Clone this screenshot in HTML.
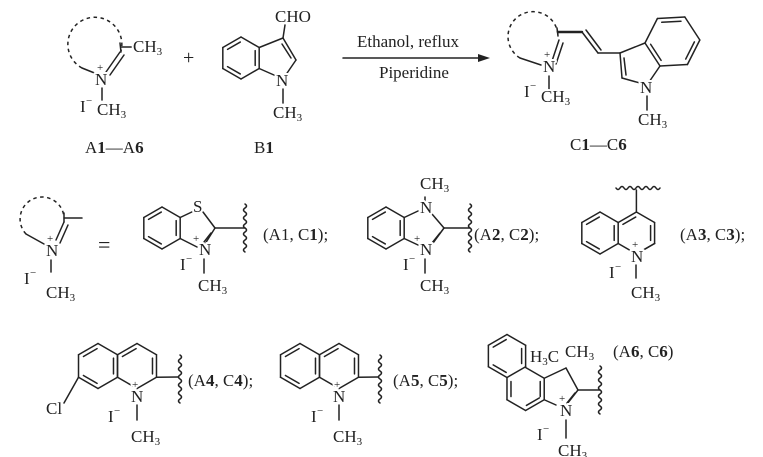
<!DOCTYPE html>
<html><head><meta charset="utf-8"><style>
html,body{margin:0;padding:0;background:#fff;}
svg{display:block;}
text{font-family:"Liberation Serif",serif;font-size:17px;fill:#222;stroke:#fff;stroke-width:4px;paint-order:stroke;stroke-linejoin:round;}
.s{font-size:11px;}
.p{font-size:11px;}
.b{font-weight:bold;}
</style></head><body>
<svg id="sv" width="763" height="457" viewBox="0 0 763 457" xmlns="http://www.w3.org/2000/svg">
<g id="lines" stroke="#222" stroke-width="1.5" fill="none" stroke-linecap="round"></g>
<g stroke="#222" stroke-width="1.5" fill="none" stroke-dasharray="3.5 3.5">
<path d="M82 68 A27 27 0 1 1 121 51"/>
<path d="M520 58 A25 25 0 1 1 558 36"/>
<path d="M26 234 A22 22 0 1 1 64 217"/>
</g>
<g id="txt">
<text x="133" y="52">CH<tspan class="s" dy="3">3</tspan></text>
<text x="95" y="85">N</text><text class="p" x="97" y="71">+</text>
<text x="80" y="112">I</text><text class="p" x="86" y="104">−</text>
<text x="97" y="115">CH<tspan class="s" dy="3">3</tspan></text>
<text x="183" y="64" style="font-size:20px">+</text>
<text x="275" y="22">CHO</text>
<text x="276" y="86">N</text>
<text x="273" y="118">CH<tspan class="s" dy="3">3</tspan></text>
<text x="85" y="153">A<tspan class="b">1</tspan>—A<tspan class="b">6</tspan></text>
<text x="254" y="153">B<tspan class="b">1</tspan></text>
<text x="357" y="47">Ethanol, reflux</text>
<text x="379" y="78">Piperidine</text>
<text x="543" y="72">N</text><text class="p" x="544" y="58">+</text>
<text x="524" y="97">I</text><text class="p" x="530" y="89">−</text>
<text x="541" y="102">CH<tspan class="s" dy="3">3</tspan></text>
<text x="640" y="93">N</text>
<text x="638" y="125">CH<tspan class="s" dy="3">3</tspan></text>
<text x="570" y="150">C<tspan class="b">1</tspan>—C<tspan class="b">6</tspan></text>
<text x="46" y="256">N</text><text class="p" x="47" y="242">+</text>
<text x="24" y="284">I</text><text class="p" x="30" y="276">−</text>
<text x="46" y="298">CH<tspan class="s" dy="3">3</tspan></text>
<text x="98" y="252" style="font-size:22px">=</text>
<text x="193" y="212">S</text>
<text x="199" y="255">N</text><text class="p" x="193" y="242">+</text>
<text x="180" y="270">I</text><text class="p" x="186" y="262">−</text>
<text x="198" y="291">CH<tspan class="s" dy="3">3</tspan></text>
<text x="263" y="240">(A1, C<tspan class="b">1</tspan>);</text>
<text x="420" y="213">N</text>
<text x="420" y="189">CH<tspan class="s" dy="3">3</tspan></text>
<text x="420" y="255">N</text><text class="p" x="414" y="242">+</text>
<text x="403" y="270">I</text><text class="p" x="409" y="262">−</text>
<text x="420" y="291">CH<tspan class="s" dy="3">3</tspan></text>
<text x="474" y="240">(A<tspan class="b">2</tspan>, C<tspan class="b">2</tspan>);</text>
<text x="631" y="262">N</text><text class="p" x="632" y="248">+</text>
<text x="609" y="278">I</text><text class="p" x="615" y="270">−</text>
<text x="631" y="298">CH<tspan class="s" dy="3">3</tspan></text>
<text x="680" y="240">(A<tspan class="b">3</tspan>, C<tspan class="b">3</tspan>);</text>
<text x="46" y="414">Cl</text>
<text x="131" y="402">N</text><text class="p" x="132" y="388">+</text>
<text x="108" y="422">I</text><text class="p" x="114" y="414">−</text>
<text x="131" y="442">CH<tspan class="s" dy="3">3</tspan></text>
<text x="188" y="386">(A<tspan class="b">4</tspan>, C<tspan class="b">4</tspan>);</text>
<text x="333" y="402">N</text><text class="p" x="334" y="388">+</text>
<text x="311" y="422">I</text><text class="p" x="317" y="414">−</text>
<text x="333" y="442">CH<tspan class="s" dy="3">3</tspan></text>
<text x="393" y="386">(A<tspan class="b">5</tspan>, C<tspan class="b">5</tspan>);</text>
<text x="530" y="362">H<tspan class="s" dy="3">3</tspan><tspan dy="-3">C</tspan></text>
<text x="565" y="357">CH<tspan class="s" dy="3">3</tspan></text>
<text x="560" y="416">N</text><text class="p" x="559" y="402">+</text>
<text x="537" y="440">I</text><text class="p" x="543" y="432">−</text>
<text x="558" y="456">CH<tspan class="s" dy="3">3</tspan></text>
<text x="613" y="357">(A<tspan class="b">6</tspan>, C<tspan class="b">6</tspan>)</text>
</g>
</svg>
<script>
var g=document.getElementById('lines'),h='';
function L(a,b,c,d,w){h+='<line x1="'+a+'" y1="'+b+'" x2="'+c+'" y2="'+d+'"'+(w?' stroke-width="'+w+'"':'')+'/>';}
function hexv(cx,cy,r){var p=[];for(var i=0;i<6;i++){var a=(-90+60*i)*Math.PI/180;p.push([cx+r*Math.cos(a),cy+r*Math.sin(a)]);}return p;}
function ring(p,dbl,skip){skip=skip||[];var n=p.length,cx=0,cy=0;p.forEach(function(q){cx+=q[0];cy+=q[1];});cx/=n;cy/=n;
for(var i=0;i<n;i++){if(skip.indexOf(i)>=0)continue;var a=p[i],b=p[(i+1)%n];L(a[0],a[1],b[0],b[1]);}
dbl.forEach(function(i){var a=p[i],b=p[(i+1)%n];var mx=(a[0]+b[0])/2,my=(a[1]+b[1])/2;var dx=cx-mx,dy=cy-my,d=Math.hypot(dx,dy);dx=dx/d*4;dy=dy/d*4;
var a2=[a[0]+(b[0]-a[0])*.15+dx,a[1]+(b[1]-a[1])*.15+dy],b2=[b[0]+(a[0]-b[0])*.15+dx,b[1]+(a[1]-b[1])*.15+dy];L(a2[0],a2[1],b2[0],b2[1]);});}
function wavyV(x,y1,y2){var s='M'+x+' '+y1;for(var y=y1;y<y2;y+=4){s+=' Q'+(x+(((y-y1)/4)%2?-3:3))+' '+(y+2)+' '+x+' '+(y+4);}h+='<path d="'+s+'"/>';}
function wavyH(y,x1,x2){var s='M'+x1+' '+y;for(var x=x1;x<x2;x+=4){s+=' Q'+(x+2)+' '+(y+(((x-x1)/4)%2?-3:3))+' '+(x+4)+' '+y;}h+='<path d="'+s+'"/>';}
L(82,68,97,74);L(121,47,133,47);L(120,43,121,52);L(106,72,120,52);L(110,75,124,55);L(102,88,102,100);
L(343,58,485,58);h+='<polygon points="490,58 478,54 478,62" fill="#222" stroke="none"/>';
var bz=hexv(241,58,21);ring(bz,[1,3,5]);
var C3a=bz[1],C7a=bz[2],C3=[283,38],C2=[296,60],N=[283,79];
L(C3a[0],C3a[1],C3[0],C3[1]);L(C3[0],C3[1],C2[0],C2[1]);L(C3[0]-1,C3[1]+6,C2[0]-5,C2[1]-2);L(C2[0],C2[1],N[0],N[1]);L(N[0],N[1],C7a[0],C7a[1]);
L(283,38,285,25);L(283,89,283,103);
L(520,58,541,65);L(557,28,558,36);L(552,61,559,40);L(556,64,563,43);L(549,76,549,90);
L(558,32,582,32,2.4);L(582,32,598,53);L(586,30,601,50);L(598,53,620,53);
var C3p=[620,53],C3ap=[645,43],C7ap=[660,66],Np=[647,85],C2p=[622,78];
L(C3p[0],C3p[1],C3ap[0],C3ap[1]);L(C3p[0],C3p[1],C2p[0],C2p[1]);L(C3p[0]+4,C3p[1]+5,C2p[0]+4,C2p[1]-3);L(C2p[0],C2p[1],Np[0],Np[1]);L(Np[0],Np[1],C7ap[0],C7ap[1]);
var mx=(C3ap[0]+C7ap[0])/2,my=(C3ap[1]+C7ap[1])/2,ex=C7ap[0]-C3ap[0],ey=C7ap[1]-C3ap[1],el=Math.hypot(ex,ey),pc=[mx+ey/el*el*0.866,my-ex/el*el*0.866];
var hp=[];for(var i=0;i<6;i++){var ang=Math.atan2(C3ap[1]-pc[1],C3ap[0]-pc[0])+i*Math.PI/3;hp.push([pc[0]+el*Math.cos(ang),pc[1]+el*Math.sin(ang)]);}
ring(hp,[1,3,5]);L(647,96,647,110);
L(26,234,44,244);L(64,213,64,222);L(64,218,82,218);L(56,240,64,222);L(60,243,68,225);L(51,260,51,272);
var b1=hexv(162,228,21);ring(b1,[1,3,5]);
var s1=b1[1],s2=b1[2];L(s1[0],s1[1],196,210);L(203,212,215,228);L(215,228,205,244);L(211,233,204,242);L(197,247,s2[0],s2[1]);L(215,228,245,228);wavyV(245,204,252);L(204,259,204,273);
var b2=hexv(386,228,21);ring(b2,[1,3,5]);
var t1=b2[1],t2=b2[2];L(t1[0],t1[1],418,211);L(432,214,444,228);L(444,228,433,243);L(440,233,432,243);L(418,245,t2[0],t2[1]);L(444,228,470,228);wavyV(470,204,252);L(425,197,425,202);L(425,259,425,273);
var q1=hexv(600,233,21);ring(q1,[1,3,5]);
var q2=hexv(636.4,233,21);ring(q2,[1,5],[3,4]);L(q2[3][0],q2[3][1],q2[2][0],q2[2][1]);L(q2[4][0],q2[4][1],q2[3][0],q2[3][1]);
L(q2[0][0],q2[0][1],636.4,190);wavyH(188,616,658);L(636,265,636,278);
var a1=hexv(98,366,22.5);ring(a1,[1,3,5]);var a2=hexv(137,366,22.5);ring(a2,[1,5]);L(a1[4][0],a1[4][1],64,403);L(a2[2][0],a2[2][1],178,377);wavyV(180,355,400);L(137,405,137,420);
var c1=hexv(300,366,22.5);ring(c1,[1,3,5]);var c2=hexv(339,366,22.5);ring(c2,[1,5]);L(c2[2][0],c2[2][1],378,377);wavyV(380,355,400);L(339,405,339,420);
var r1=hexv(507,356,21.5);ring(r1,[1,3,5]);var r2=hexv(525.6,389,21.5);ring(r2,[1,2,4],[5]);
L(r2[1][0],r2[1][1],566,368);L(566,368,578,390);L(578,390,567,404);L(575,393,567,403);L(r2[2][0],r2[2][1],556,405);L(578,390,600,390);wavyV(600,366,414);L(566,420,566,438);
g.innerHTML=h;
</script>
</body></html>
